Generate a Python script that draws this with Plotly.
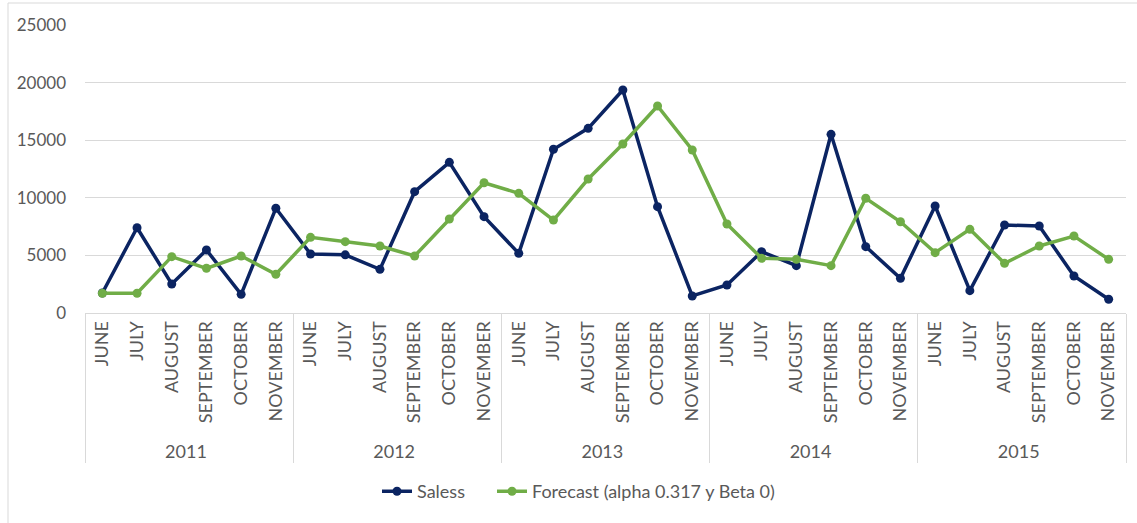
import plotly.graph_objects as go

years = ["2011", "2012", "2013", "2014", "2015"]
months = ["JUNE", "JULY", "AUGUST", "SEPTEMBER", "OCTOBER", "NOVEMBER"]

sales = [1740, 7400, 2520, 5470, 1620, 9090,
         5120, 5050, 3790, 10530, 13080, 8360,
         5180, 14210, 16030, 19360, 9230, 1480,
         2430, 5320, 4110, 15510, 5760, 3010,
         9290, 1940, 7640, 7550, 3210, 1190]

forecast = [1710, 1710, 4890, 3880, 4950, 3360,
            6570, 6190, 5820, 4950, 8160, 11310,
            10390, 8070, 11630, 14670, 17970, 14150,
            7730, 4750, 4660, 4110, 9960, 7920,
            5240, 7260, 4310, 5820, 6680, 4660]

x_year = [y for y in years for _ in months]
x_month = [m for _ in years for m in months]

FONT = "Lato"
GREY = "#595959"
PW = 1041  # plot width in px

fig = go.Figure()
fig.add_trace(go.Scatter(
    x=[x_year, x_month], y=sales, name="Saless", mode="lines+markers",
    line=dict(color="#0b2462", width=3.5), marker=dict(size=9, color="#0b2462"),
    legend="legend"))
fig.add_trace(go.Scatter(
    x=[x_year, x_month], y=forecast, name="Forecast (alpha 0.317 y Beta 0)",
    mode="lines+markers",
    line=dict(color="#70ad47", width=3.5), marker=dict(size=9, color="#70ad47"),
    legend="legend2"))

legend_common = dict(orientation="h", yanchor="middle", y=-0.62, xanchor="left",
                     font=dict(family=FONT, size=18, color=GREY), itemwidth=30,
                     bgcolor="rgba(0,0,0,0)")

fig.update_layout(
    width=1137, height=523,
    margin=dict(l=85, r=11, t=25, b=210),
    plot_bgcolor="white", paper_bgcolor="white",
    font=dict(family=FONT, size=17, color=GREY),
    showlegend=True,
    legend=dict(legend_common, x=(377 - 85) / PW),
    legend2=dict(legend_common, x=(492 - 85) / PW),
    xaxis=dict(type="multicategory", tickangle=-90, showgrid=False,
               range=[-0.5, 29.5], autorange=False,
               showline=True, linecolor="#d9d9d9", linewidth=1,
               showdividers=True, dividercolor="#d9d9d9", dividerwidth=1,
               ticks="", tickfont=dict(family=FONT, size=18, color=GREY)),
    yaxis=dict(range=[0, 25000], dtick=5000, showgrid=True, gridcolor="#d9d9d9",
               gridwidth=1, zeroline=False, showline=False, ticks="",
               tickformat="d", tickfont=dict(family=FONT, size=17, color=GREY),
               ticklabelstandoff=18),
    shapes=[dict(type="rect", xref="paper", yref="paper",
                 x0=-77 / PW, x1=1.2, y0=-2, y1=1 + 22 / 288,
                 line=dict(color="#d9d9d9", width=1), layer="below")],
)

fig.write_html("out.html")
